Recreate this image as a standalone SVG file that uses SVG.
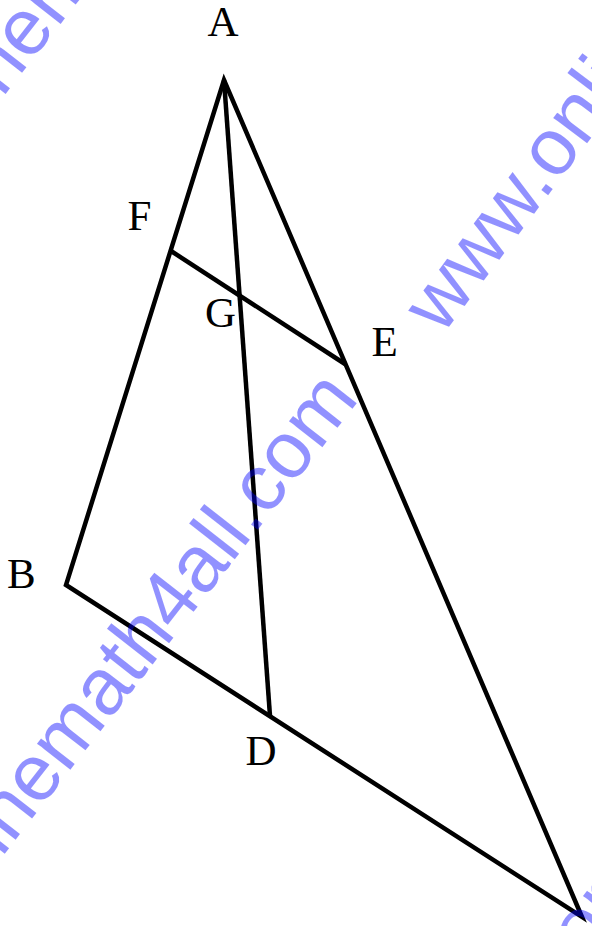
<svg xmlns="http://www.w3.org/2000/svg" width="592" height="926" viewBox="0 0 592 926">
<style>
.seg{fill:none;stroke:#000;stroke-width:4.5;stroke-linejoin:miter;stroke-linecap:butt}
.lbl{font-family:"Liberation Serif","Times New Roman",serif;font-size:43px;fill:#000}
.wm{font-family:"Liberation Sans",Arial,sans-serif;font-size:80px;fill:#0000FF;fill-opacity:0.43}
</style>
<rect width="592" height="926" fill="#fff"/>
<g id="segments">
<path class="seg" d="M224,80 L66,585 L582,917 Z"/>
<line class="seg" x1="224" y1="80" x2="270" y2="716"/>
<line class="seg" x1="171" y1="251" x2="345" y2="364"/>
</g>
<g id="labels">
<text class="lbl" x="223" y="36" text-anchor="middle">A</text>
<text class="lbl" x="127.5" y="230">F</text>
<text class="lbl" x="205" y="327">G</text>
<text class="lbl" x="371.5" y="356">E</text>
<text class="lbl" x="7" y="588">B</text>
<text class="lbl" x="245.5" y="765">D</text>
</g>
<g id="watermark">
<text class="wm" transform="translate(360,399) rotate(-52)" text-anchor="end">www.onlinemath4all.com</text>
<text class="wm" transform="translate(442,336) rotate(-53)">www.onlinemath4all.com</text>
<text class="wm" transform="translate(-192,347) rotate(-52)">www.onlinemath4all.com</text>
<text class="wm" transform="translate(468,1112) rotate(-52)">www.onlinemath4all.com</text>
</g>
</svg>
